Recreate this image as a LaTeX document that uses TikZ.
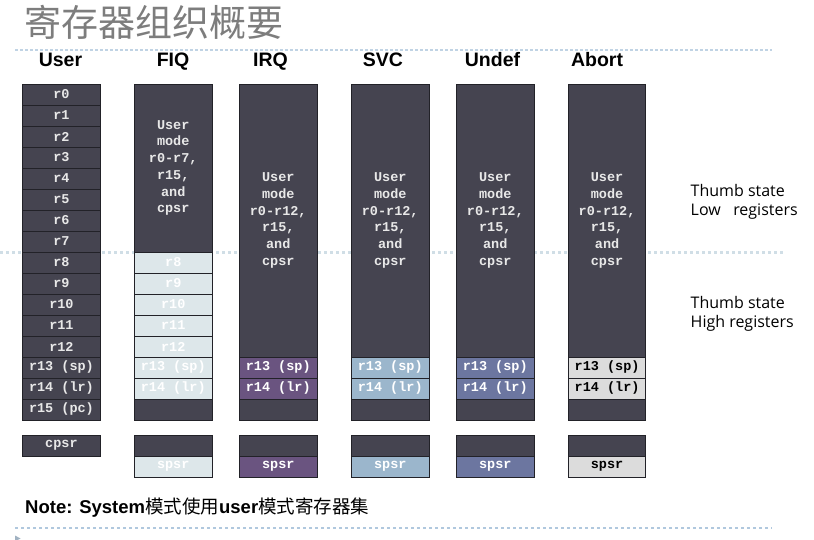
\documentclass[tikz,border=0pt]{standalone}
\usepackage{fontspec}
\usepackage{tikz}
\usetikzlibrary{calc}
\usetikzlibrary{positioning}
\setmainfont{Liberation Sans}
\newfontfamily\cjk{Noto Sans CJK SC}
\newfontfamily\regfont{Liberation Mono}
\newfontfamily\thumbfont{Open Sans}
\definecolor{regdark}{RGB}{69,68,80}
\definecolor{regline}{RGB}{34,34,40}
\definecolor{regtext}{RGB}{232,232,232}
\definecolor{fiqc}{RGB}{221,231,234}
\definecolor{irqc}{RGB}{106,84,128}
\definecolor{svcc}{RGB}{155,182,204}
\definecolor{undc}{RGB}{108,118,160}
\definecolor{abtc}{RGB}{220,220,220}
\definecolor{rulec}{RGB}{176,200,222}
\definecolor{midc}{RGB}{208,222,230}
\definecolor{titlegray}{RGB}{125,125,125}

\begin{document}
\begin{tikzpicture}[x=1pt, y=-1pt,
  reg/.style={draw=regline, line width=0.9pt, fill=regdark, text=regtext, anchor=north west,
    minimum width=77.5pt, minimum height=21pt, inner sep=0pt, outer sep=0pt, align=center,
    font=\regfont\bfseries\fontsize{13.5}{16.7}\selectfont},
  modehead/.style={anchor=base, inner sep=0pt, font=\bfseries\fontsize{19.5}{22}\selectfont},
  thumbtext/.style={anchor=base west, inner sep=0pt, font=\thumbfont\fontsize{16}{19}\selectfont}]
\useasboundingbox (0,0) rectangle (814,540);

\coordinate (TL) at (15,50); \coordinate (TR) at (772,50);
\coordinate (ML) at (0,253); \coordinate (MR) at (783,253);
\coordinate (BL) at (15,528); \coordinate (BR) at (772,528);
\draw[rulec!80, line width=1.3pt, dash pattern=on 3pt off 2pt] (TL) -- (TR);
\draw[midc, line width=3pt, dash pattern=on 3.3pt off 2.7pt] (ML) -- (MR);
\draw[rulec, line width=1.2pt, dash pattern=on 3.3pt off 2.7pt] (BL) -- (BR);
\fill[rulec!70!gray] (15,535.5) -- (20.5,538.5) -- (15,541.5) -- cycle;

\node[anchor=base west, inner sep=0pt, text=titlegray, font=\cjk\fontsize{37}{40}\selectfont] (title) at (24,36.5) {寄存器组织概要};

\node[modehead] (hUser) at (60.5,66.7) {User};
\node[modehead] (hFIQ) at (173,66.7) {FIQ};
\node[modehead] (hIRQ) at (270.5,66.7) {IRQ};
\node[modehead] (hSVC) at (383,66.7) {SVC};
\node[modehead] (hUndef) at (492.5,66.7) {Undef};
\node[modehead] (hAbort) at (597,66.7) {Abort};

\foreach \i/\lab in {0/r0,1/r1,2/r2,3/r3,4/r4,5/r5,6/r6,7/r7,8/r8,9/r9,10/r10,11/r11,12/r12,13/r13 (sp),14/r14 (lr),15/r15 (pc)}
  \node[reg] (U\i) at (22.7,84+21*\i) {\lab};
\node[reg] (Ucpsr) at (22.7,435) {cpsr};

\node[reg, minimum height=168pt] (Ftop) at (134.5,84) {User\\mode\\r0-r7,\\r15,\\and\\cpsr};
\foreach \i/\lab in {8/r8,9/r9,10/r10,11/r11,12/r12,13/r13 (sp),14/r14 (lr)}
  \node[reg, fill=fiqc, text=white] (F\i) at (134.5,84+21*\i) {\lab};
\node[reg] (F15) at (134.5,399) {};
\node[reg] (Fcpsr) at (134.5,435) {};
\node[reg, fill=fiqc, text=white] (Fspsr) at (134.5,456) {spsr};

\foreach \m/\x/\fc/\tc in {I/239.5/irqc/white, S/351.5/svcc/white, D/456.5/undc/white, A/568.3/abtc/black}{
  \node[reg, minimum height=273pt] (\m top) at (\x,84) {User\\mode\\r0-r12,\\r15,\\and\\cpsr};
  \node[reg, fill=\fc, text=\tc] (\m13) at (\x,357) {r13 (sp)};
  \node[reg, fill=\fc, text=\tc] (\m14) at (\x,378) {r14 (lr)};
  \node[reg] (\m15) at (\x,399) {};
  \node[reg] (\m cpsr) at (\x,435) {};
  \node[reg, fill=\fc, text=\tc] (\m spsr) at (\x,456) {spsr};
}

\node[thumbtext] (lowA) at (690.5,196.7) {Thumb state};
\node[thumbtext] (lowB) at ($(lowA.base west)+(0,18.8)$) {Low~~~registers};
\node[thumbtext] (highA) at (690.5,308.3) {Thumb state};
\node[thumbtext] (highB) at ($(highA.base west)+(0,18.8)$) {High registers};

\node[anchor=base west, inner sep=0pt, font=\bfseries\fontsize{18.5}{22}\selectfont] (note) at (25,513.3)
  {Note: System{\mdseries\cjk 模式使用}user{\mdseries\cjk 模式寄存器集}};
\end{tikzpicture}
\end{document}
